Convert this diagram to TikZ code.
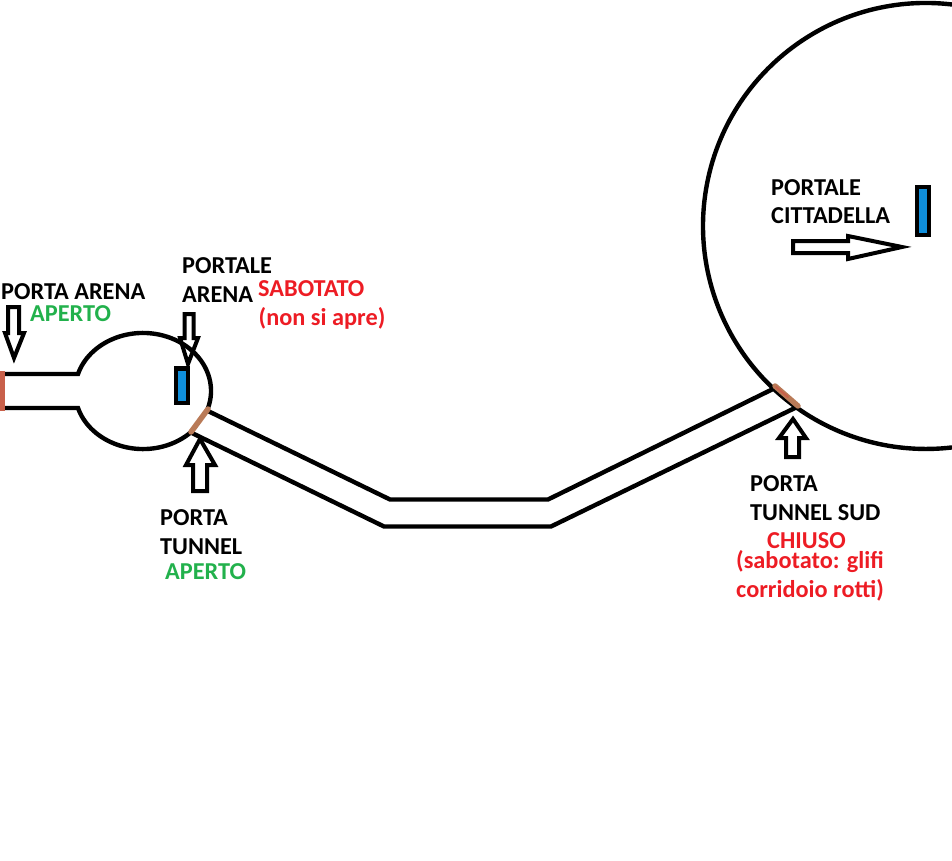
\documentclass[tikz,border=0pt]{standalone}
\usepackage{fontspec}
\setmainfont{Carlito}
\definecolor{dred}{HTML}{ED1C24}
\definecolor{dgreen}{HTML}{22B14C}
\definecolor{dblue}{HTML}{0F8FDC}
\definecolor{dbrown}{HTML}{B97A57}
\definecolor{dbrownred}{HTML}{C8604A}
\tikzset{
  wall/.style={line width=4.4pt,draw=black,line join=miter},
  hollow/.style={line width=4pt,draw=black,line join=miter},
  gate/.style={line width=5.5pt,draw=dbrown,line cap=round},
  portal/.style={line width=4.4pt,draw=black,fill=dblue},
  lab/.style={anchor=base west,inner sep=0pt,font=\fontsize{24.3pt}{26pt}\selectfont\bfseries},
  blk/.style={lab,text=black},
  rd/.style={lab,text=dred},
  gr/.style={lab,text=dgreen}
}
\begin{document}
\begin{tikzpicture}[x=1pt,y=-1pt]
\useasboundingbox (0,0) rectangle (952,861);
% big circle
\draw[wall] (952,4.5) arc[start angle=83.3,end angle=276.7,radius=223pt];
% small room with neck
\draw[wall] (0,374) -- (78,374) arc[start angle=163,end angle=-18,x radius=68pt,y radius=58pt];
\draw[wall] (0,408) -- (78,408) arc[start angle=-163,end angle=-45,x radius=68pt,y radius=58pt];
% tunnel
\draw[wall] (208,411) -- (390,499.5) -- (548,499.5) -- (775,388);
\draw[wall] (192,433) -- (384,526.5) -- (551,526.5) -- (797,407);
% gates
\draw[gate,dbrownred,line cap=butt] (2,371) -- (2,411);
\draw[gate] (191,432) -- (208,409);
\draw[gate] (775,386) -- (798,406);
\draw[line width=2pt,draw=dbrownred,line cap=round] (776,387) -- (788,397);
% portals
\draw[portal] (176,368.5) rectangle (188,403);
\draw[portal] (917,187) rectangle (929,235);
% hollow arrows
\draw[hollow] (8,307) -- (19,307) -- (19,333) -- (24,333) -- (14,358) -- (5,333) -- (8,333) -- cycle;
\draw[hollow] (184.5,314) -- (193.5,314) -- (193.5,338) -- (198,338) -- (188,364) -- (180,338) -- (184.5,338) -- cycle;
\draw[hollow] (193,491) -- (207,491) -- (207,465) -- (215,465) -- (200,439) -- (186,465) -- (193,465) -- cycle;
\draw[hollow] (793,241) -- (848,241) -- (848,236) -- (902,247) -- (848,259) -- (848,253) -- (793,253) -- cycle;
\draw[hollow] (786,457) -- (799,457) -- (799,438) -- (806,438) -- (793,419) -- (779,438) -- (786,438) -- cycle;
% labels
\node[blk] (portaarena) at (1,299.5) {PORTA ARENA};
\node[gr] (aperto1) at (30,321) {APERTO};
\node[blk] (portale1) at (182,273) {PORTALE};
\node[blk] (arena1) at (182,302) {ARENA};
\node[rd] (sabotato) at (258,296.5) {SABOTATO};
\node[rd] (nonsi) at (258.5,325) {(non si apre)};
\node[blk] (porta2) at (160,525.5) {PORTA};
\node[blk] (tunnel2) at (160,554.5) {TUNNEL};
\node[gr] (aperto2) at (165,579) {APERTO};
\node[blk] (portale3) at (771,195) {PORTALE};
\node[blk] (citta) at (771,223.5) {CITTADELLA};
\node[blk] (porta4) at (750,491) {PORTA};
\node[blk] (tunnelsud) at (750,520) {TUNNEL SUD};
\node[rd] (chiuso) at (767,548) {CHIUSO};
\node[rd] (sab2) at (736,568) {(sabotato: glifi};
\node[rd] (corr) at (736,597) {corridoio rotti)};
\end{tikzpicture}
\end{document}
